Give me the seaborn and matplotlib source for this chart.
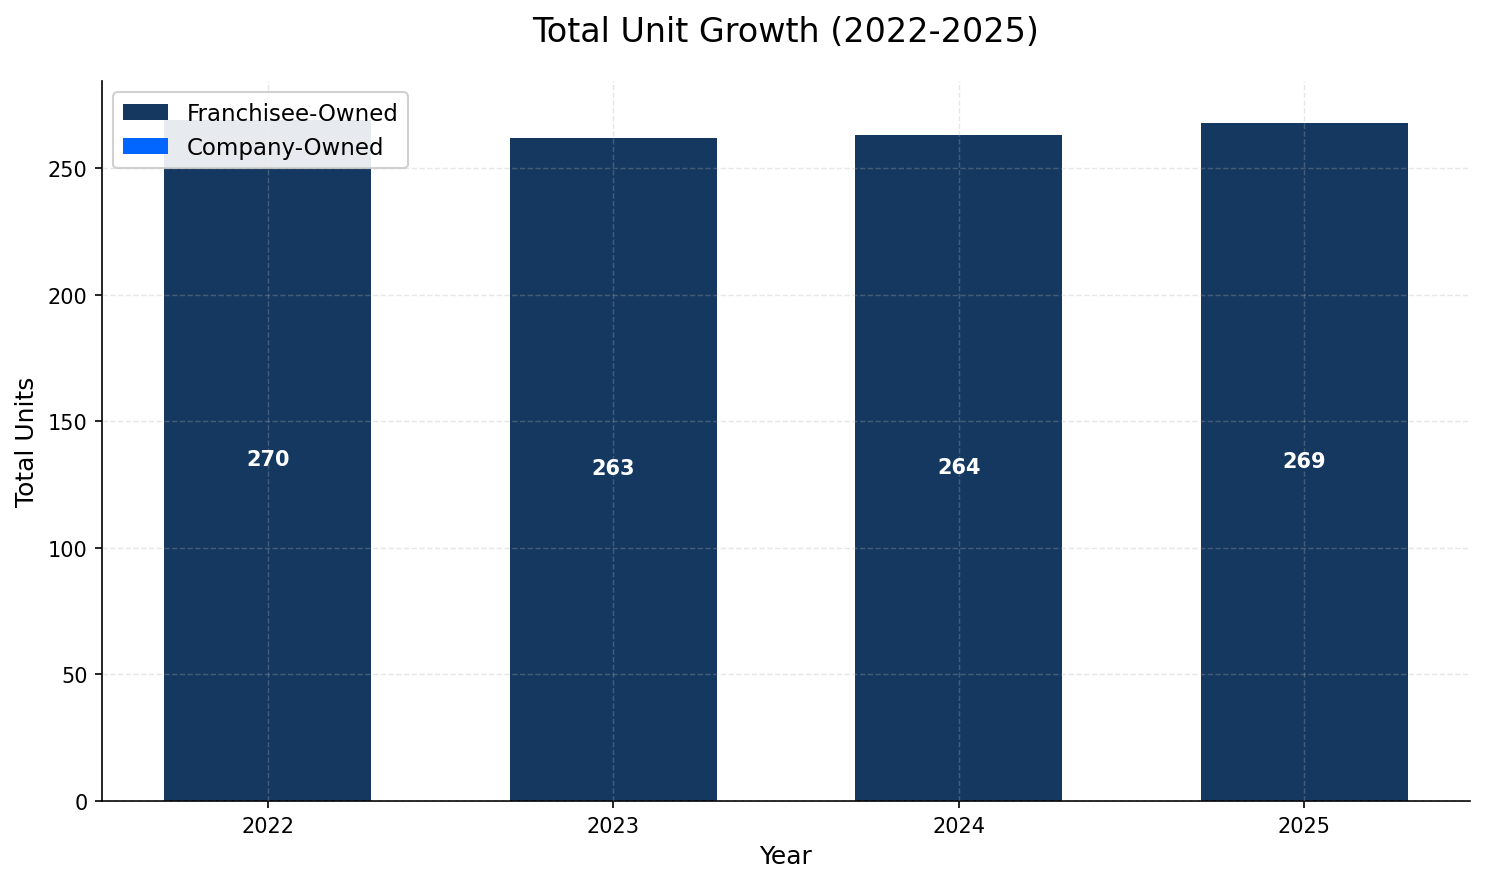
import matplotlib
matplotlib.use("Agg")
import matplotlib.pyplot as plt
import seaborn as sns
import pandas as pd

years = ["2022", "2023", "2024", "2025"]
franchisee_owned = [269, 262, 263, 268]
company_owned = [0, 0, 0, 0]
total_labels = [270, 263, 264, 269]

df = pd.DataFrame({
    "Year": years,
    "Franchisee": franchisee_owned,
    "Company": company_owned,
})
df["Stack"] = df["Franchisee"] + df["Company"]

plt.rcParams["font.family"] = ["DejaVu Sans"]

fig = plt.figure(figsize=(9.9, 5.8933), dpi=150)
ax = fig.add_axes([0.0687, 0.0928, 0.9212, 0.8144])

sns.barplot(data=df, x="Year", y="Stack", color="#0066FF", width=0.6,
            saturation=1, ax=ax, label="Company-Owned", zorder=1, linewidth=0)
sns.barplot(data=df, x="Year", y="Franchisee", color="#14385F", width=0.6,
            saturation=1, ax=ax, label="Franchisee-Owned", zorder=1, linewidth=0)

for i, t in enumerate(total_labels):
    ax.text(i, t / 2, str(t), ha="center", va="center", color="white",
            fontsize=10, fontweight="bold", zorder=3)

ax.set_xlim(-0.48, 3.48)
ax.set_ylim(0, 284.5)
ax.grid(True, linestyle="--", color="#b0b0b0", alpha=0.3, linewidth=0.7, zorder=2)
ax.set_axisbelow(False)
for s in ["top", "right"]:
    ax.spines[s].set_visible(False)
ax.tick_params(axis="both", labelsize=10)
ax.set_xlabel("Year", fontsize=12)
ax.set_ylabel("Total Units", fontsize=12)
ax.set_title("Total Unit Growth (2022-2025)", fontsize=16, pad=19)

handles, labels = ax.get_legend_handles_labels()
order = [labels.index("Franchisee-Owned"), labels.index("Company-Owned")]
leg = ax.legend([handles[i] for i in order], [labels[i] for i in order],
                loc="upper left", fontsize=11, framealpha=0.9)
leg.set_zorder(5)

fig.savefig("out.png", dpi=150)
